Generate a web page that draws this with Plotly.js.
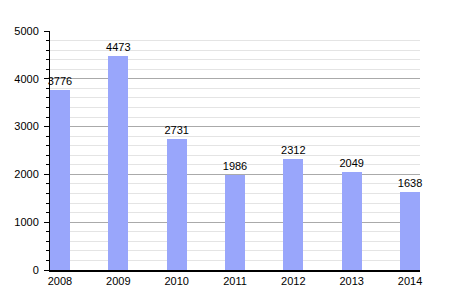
<!DOCTYPE html>
<html><head><meta charset="utf-8">
<script src="https://cdn.plot.ly/plotly-3.0.1.min.js"></script>
<style>html,body{margin:0;padding:0;background:#fff;}#chart{width:450px;height:300px;}</style>
</head><body><div id="chart"></div>
<script>
const years = [2008, 2009, 2010, 2011, 2012, 2013, 2014];
const values = [3776, 4473, 2731, 1986, 2312, 2049, 1638];
const yTicks = [0, 1000, 2000, 3000, 4000, 5000];

const trace = {
  type: 'bar', x: years, y: values, width: 0.343,
  marker: {color: '#99a6fb', line: {width: 0}},
  text: values.map(String), textposition: 'outside', cliponaxis: false,
  constraintext: 'none',
  textfont: {family: 'Liberation Sans, Arial, sans-serif', size: 11, color: '#000'},
  hoverinfo: 'none'
};
const layout = {
  width: 450, height: 300,
  margin: {l: 50, r: 30, t: 31, b: 30},
  paper_bgcolor: '#fff', plot_bgcolor: '#fff',
  showlegend: false,
  font: {family: 'Liberation Sans, Arial, sans-serif', size: 11, color: '#000'},
  xaxis: {
    range: [2007.829, 2014.171], tickvals: years, ticktext: years.map(String),
    showgrid: false, zeroline: false, showline: true, linecolor: '#000', linewidth: 1.5,
    ticks: '', fixedrange: true
  },
  yaxis: {
    range: [0, 5000], tickvals: yTicks, ticktext: yTicks.map(String),
    showgrid: true, gridcolor: '#aaaaaa', gridwidth: 1,
    minor: {dtick: 200, showgrid: true, gridcolor: '#e4e4e4', ticks: 'outside', ticklen: 3, tickcolor: '#000'},
    zeroline: false, showline: true, linecolor: '#000', linewidth: 1,
    ticks: 'outside', ticklen: 5, tickcolor: '#000', ticklabelstandoff: 3, fixedrange: true
  },
  bargap: 0
};
Plotly.newPlot('chart', [trace], layout, {displayModeBar: false, staticPlot: true});
</script></body></html>
